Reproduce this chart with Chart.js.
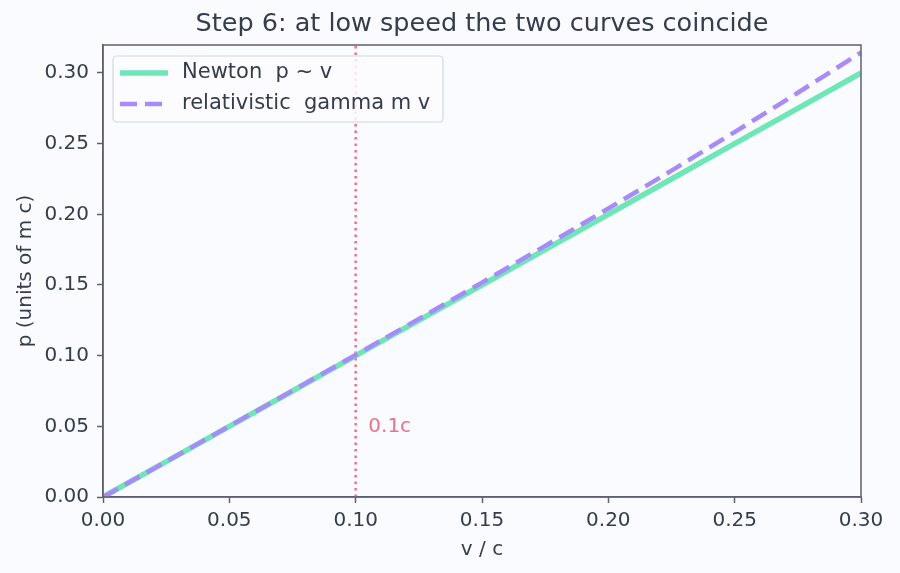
<!DOCTYPE html>
<html>
<head>
<meta charset="utf-8">
<script src="https://cdn.jsdelivr.net/npm/chart.js@4"></script>
<style>
  html, body { margin: 0; padding: 0; background: #fafbfe; }
  #wrap { width: 900px; height: 573px; }
</style>
</head>
<body>
<div id="wrap"><canvas id="momentumChart" width="900" height="573"></canvas></div>
<script>
// ===============================
// Data
// ===============================
const speeds = [0, 0.025, 0.05, 0.075, 0.10, 0.125, 0.15, 0.175, 0.20, 0.225, 0.25, 0.275, 0.30];
const newtonP = [0, 0.025, 0.05, 0.075, 0.10, 0.125, 0.15, 0.175, 0.20, 0.225, 0.25, 0.275, 0.30];
const relativisticP = [0, 0.0250, 0.0501, 0.0752, 0.1005, 0.1260, 0.1517, 0.1777, 0.2041, 0.2309, 0.2582, 0.2860, 0.3145];
const xTicks = [0, 0.05, 0.10, 0.15, 0.20, 0.25, 0.30];
const yTicks = [0, 0.05, 0.10, 0.15, 0.20, 0.25, 0.30];
const markerSpeed = 0.1;
const markerLabel = '0.1c';

const textColor = '#353c4e';
const spineColor = '#5d6070';
const markerColor = '#f07089';
const FONT = 'DejaVu Sans';

function toPoints(xs, ys) {
  return xs.map((x, i) => ({ x: x, y: ys[i] }));
}

// ===============================
// Plugin: frame, marker line, title, legend
// ===============================
const decorPlugin = {
  id: 'decor',
  beforeDraw(chart) {
    const ctx = chart.ctx;
    ctx.save();
    ctx.fillStyle = '#fafbfe';
    ctx.fillRect(0, 0, chart.width, chart.height);
    ctx.restore();
  },
  beforeDatasetsDraw(chart) {
    const { ctx, chartArea: a, scales } = chart;
    const xm = scales.x.getPixelForValue(markerSpeed);
    ctx.save();
    ctx.strokeStyle = markerColor;
    ctx.lineWidth = 2.5;
    ctx.setLineDash([2.5, 4]);
    ctx.beginPath();
    ctx.moveTo(xm, a.bottom);
    ctx.lineTo(xm, a.top);
    ctx.stroke();
    ctx.setLineDash([]);
    ctx.fillStyle = markerColor;
    ctx.font = '20px "' + FONT + '"';
    ctx.textBaseline = 'middle';
    ctx.fillText(markerLabel, scales.x.getPixelForValue(0.105), scales.y.getPixelForValue(0.05));
    ctx.restore();
  },
  afterDraw(chart) {
    const { ctx, chartArea: a } = chart;
    ctx.save();
    // frame
    ctx.strokeStyle = spineColor;
    ctx.lineWidth = 1.5;
    ctx.strokeRect(a.left, a.top, a.right - a.left, a.bottom - a.top);

    // title
    ctx.fillStyle = textColor;
    ctx.font = '25.5px "' + FONT + '"';
    ctx.textAlign = 'center';
    ctx.textBaseline = 'middle';
    ctx.fillText('Step 6: at low speed the two curves coincide', (a.left + a.right) / 2, 24);

    // legend
    const lx = a.left + 10, ly = a.top + 11, lw = 330, lh = 66;
    ctx.fillStyle = 'rgba(252,252,254,0.85)';
    ctx.strokeStyle = '#d4d6dc';
    ctx.lineWidth = 1.2;
    ctx.beginPath();
    ctx.roundRect(lx, ly, lw, lh, 4);
    ctx.fill();
    ctx.stroke();

    ctx.font = '21px "' + FONT + '"';
    ctx.textAlign = 'left';
    chart.data.datasets.forEach((ds, i) => {
      const y = ly + 17 + i * 31;
      ctx.strokeStyle = ds.borderColor;
      ctx.lineWidth = ds.borderWidth;
      ctx.setLineDash(ds.borderDash || []);
      ctx.beginPath();
      ctx.moveTo(lx + 7, y);
      ctx.lineTo(lx + 55, y);
      ctx.stroke();
      ctx.setLineDash([]);
      ctx.fillStyle = textColor;
      ctx.fillText(ds.label, lx + 69, y);
    });
    ctx.restore();
  }
};

// ===============================
// Chart: momentum vs speed
// ===============================
new Chart(document.getElementById('momentumChart'), {
  type: 'line',
  data: {
    datasets: [{
      label: 'Newton  p ~ v',
      data: toPoints(speeds, newtonP),
      borderColor: '#6ee7b7',
      borderWidth: 5.5,
      pointRadius: 0,
      tension: 0,
      order: 2
    }, {
      label: 'relativistic  gamma m v',
      data: toPoints(speeds, relativisticP),
      borderColor: '#a78bfa',
      borderWidth: 4.5,
      borderDash: [17, 8],
      pointRadius: 0,
      tension: 0,
      order: 1
    }]
  },
  options: {
    responsive: false,
    animation: false,
    layout: { padding: { top: 45, right: 39, left: 0, bottom: 0 } },
    plugins: {
      legend: { display: false },
      title: { display: false },
      tooltip: { enabled: false }
    },
    scales: {
      x: {
        type: 'linear',
        min: 0,
        max: 0.30,
        afterFit(scale) { scale.height = 76; },
        afterBuildTicks(scale) { scale.ticks = xTicks.map(v => ({ value: v })); },
        grid: { drawOnChartArea: false, drawTicks: true, tickLength: 6, color: spineColor, tickWidth: 1.5 },
        border: { display: true, color: spineColor, width: 1.5 },
        ticks: {
          color: textColor,
          font: { family: FONT, size: 20 },
          padding: 6,
          maxRotation: 0,
          callback: v => v.toFixed(2)
        },
        title: {
          display: true,
          text: 'v / c',
          color: textColor,
          font: { family: FONT, size: 20 },
          padding: { top: 4, bottom: 11 }
        }
      },
      y: {
        type: 'linear',
        min: 0,
        max: 0.3198,
        afterFit(scale) { scale.width = 103; },
        afterBuildTicks(scale) { scale.ticks = yTicks.map(v => ({ value: v })); },
        grid: { drawOnChartArea: false, drawTicks: true, tickLength: 6, color: spineColor, tickWidth: 1.5 },
        border: { display: true, color: spineColor, width: 1.5 },
        ticks: {
          color: textColor,
          font: { family: FONT, size: 20 },
          padding: 8,
          callback: v => v.toFixed(2)
        },
        title: {
          display: true,
          text: 'p (units of m c)',
          color: textColor,
          font: { family: FONT, size: 20 },
          padding: { top: 14, bottom: 4 }
        }
      }
    }
  },
  plugins: [decorPlugin]
});
</script>
</body>
</html>
